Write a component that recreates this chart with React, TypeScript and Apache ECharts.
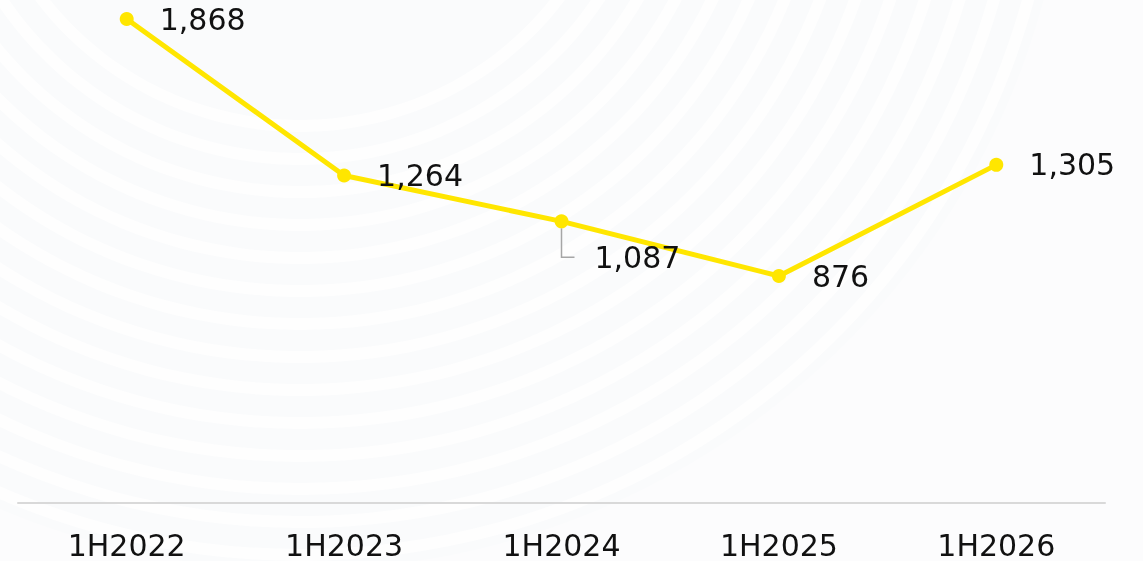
import React, { useEffect, useRef } from "react";
import * as echarts from "echarts";

const categories = ["1H2022", "1H2023", "1H2024", "1H2025", "1H2026"];
const values = [1868, 1264, 1087, 876, 1305];

const FONT = "DejaVu Sans";

export default function App() {
  const ref = useRef<HTMLDivElement>(null);
  useEffect(() => {
    if (!ref.current) return;
    const chart = echarts.init(ref.current, null, { renderer: "svg" });

    // decorative faint concentric rings (background watermark)
    const rings: any[] = [
      {
        type: "rect",
        shape: { x: 0, y: 0, width: 1143, height: 561 },
        style: { fill: "#fcfcfd" },
        silent: true,
        z: -20,
      },
      {
        type: "circle",
        shape: { cx: 300, cy: -200, r: 770 },
        style: { fill: "#fafbfc" },
        silent: true,
        z: -19,
      },
    ];
    for (let r = 320; r < 770; r += 33) {
      rings.push({
        type: "ring",
        shape: { cx: 300, cy: -200, r0: r, r: r + 12 },
        style: { fill: "#fefefe" },
        silent: true,
        z: -18,
      });
    }

    chart.setOption({
      animation: false,
      backgroundColor: "transparent",
      graphic: rings,
      grid: { left: 18, right: 38, top: 19, bottom: 58, containLabel: false },
      xAxis: {
        type: "category",
        data: categories,
        boundaryGap: true,
        axisLine: { lineStyle: { color: "#d9d9d9", width: 2 } },
        axisTick: { show: false },
        axisLabel: {
          fontFamily: FONT,
          fontSize: 30,
          color: "#111111",
          margin: 27,
        },
        splitLine: { show: false },
      },
      yAxis: {
        type: "value",
        min: 0,
        max: 1868,
        show: false,
        splitLine: { show: false },
      },
      series: [
        {
          type: "line",
          data: values.map((v, i) =>
            i === 2
              ? {
                  value: v,
                  labelLine: {
                    show: true,
                    length2: 13,
                    minTurnAngle: 90,
                    lineStyle: { color: "#a6a6a6", width: 1.5 },
                  },
                }
              : { value: v }
          ),
          symbol: "circle",
          symbolSize: 14,
          itemStyle: { color: "#ffe600" },
          lineStyle: { color: "#ffe600", width: 5 },
          label: {
            show: true,
            position: "right",
            distance: 26,
            fontFamily: FONT,
            fontSize: 30,
            color: "#111111",
            formatter: (p: any) =>
              (p.dataIndex === 2 ? "{g|}" : "") + p.value.toLocaleString("en-US"),
            rich: { g: { width: 20 } },
          },
          labelLayout: (p: any) => (p.dataIndex === 2 ? { dx: -20, dy: 36 } : {}),
        },
      ],
    });
    return () => chart.dispose();
  }, []);
  return (
    <div
      ref={ref}
      style={{ position: "fixed", left: 0, top: 0, width: 1143, height: 561 }}
    />
  );
}
